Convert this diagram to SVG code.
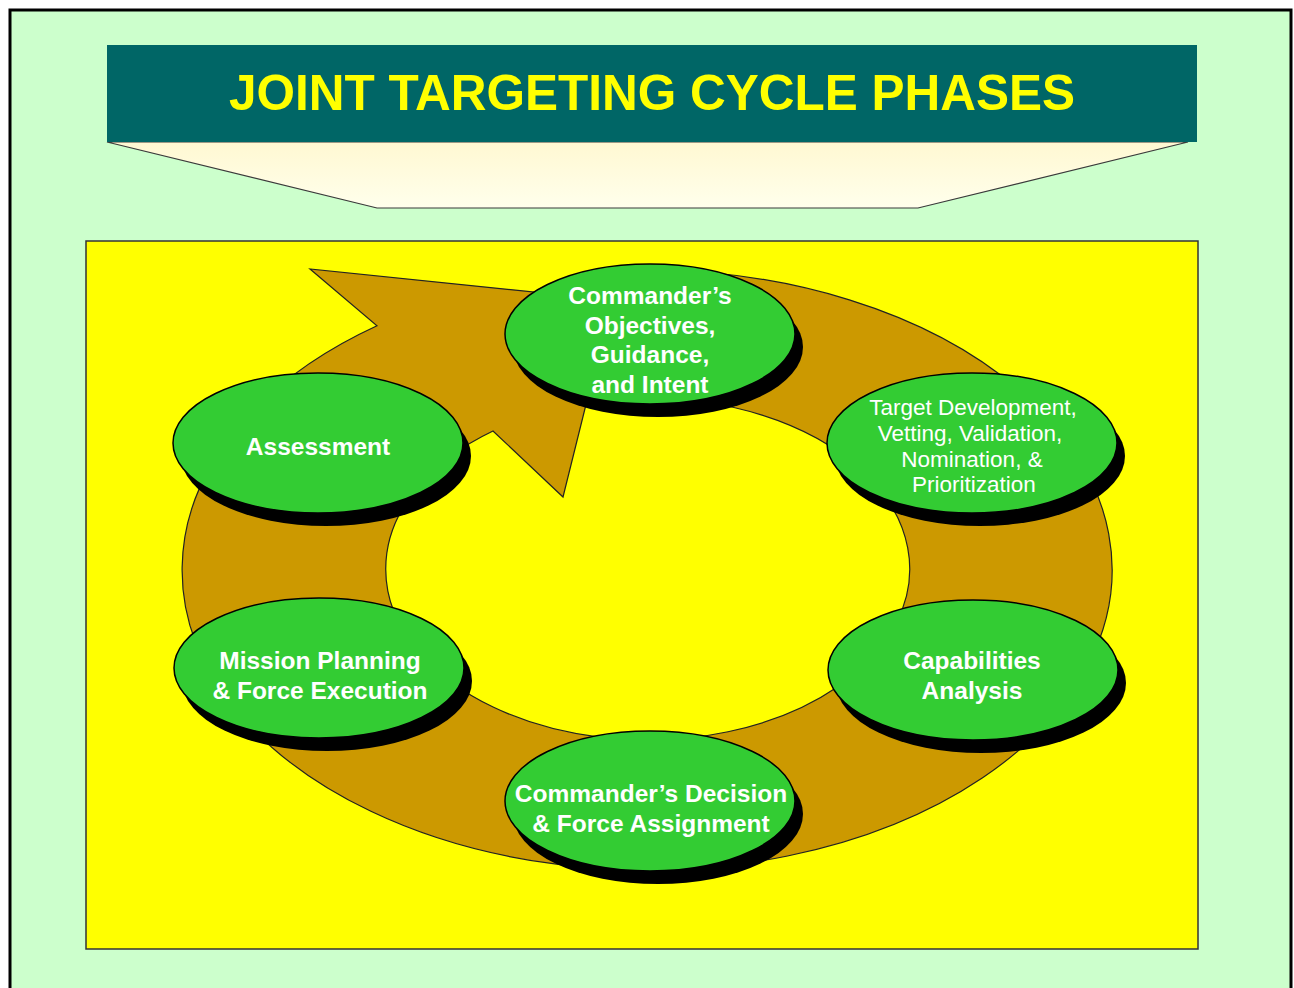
<svg xmlns="http://www.w3.org/2000/svg" width="1294" height="988" viewBox="0 0 1294 988">
<defs>
<linearGradient id="cream" x1="0" y1="0" x2="0" y2="1">
<stop offset="0" stop-color="#FFF8D2"/>
<stop offset="1" stop-color="#FFFFEC"/>
</linearGradient>
<style>
.shadow{fill:#000000;}
.node{fill:#33CC33;stroke:#000000;stroke-width:1.5;}
.lbl{font-family:"Liberation Sans",Arial,sans-serif;font-weight:bold;font-size:24.5px;fill:#FFFFFF;text-anchor:middle;}
.lbl2{font-family:"Liberation Sans",Arial,sans-serif;font-weight:normal;font-size:22.5px;fill:#FFFFFF;text-anchor:middle;}
.title{font-family:"Liberation Sans",Arial,sans-serif;font-weight:bold;font-size:49.5px;fill:#FFFF00;text-anchor:middle;}
</style>
</defs>
<rect x="0" y="0" width="1294" height="988" fill="#FFFFFF"/>
<rect x="10" y="10" width="1281" height="1000" fill="#CCFFCC" stroke="#000000" stroke-width="3"/>
<g id="banner">
<polygon points="107,142 1188,142 918,208 377,208" fill="url(#cream)" stroke="#3a3a3a" stroke-width="1.2"/>
<rect x="107" y="45" width="1090" height="97" fill="#006666"/>
<text class="title" x="652" y="110">JOINT TARGETING CYCLE PHASES</text>
</g>
<rect x="86" y="241" width="1112" height="708" fill="#FFFF00" stroke="#333333" stroke-width="1.5"/>
<g id="connectors">
<path d="M650,270 A465,300 0 1 1 377,325.8 L310,269 L612,300 L563,497 L493,431 A262,171 0 1 0 650,398 Z" fill="#CC9900" stroke="#222222" stroke-width="1.2" stroke-linejoin="miter"/>
</g>
<g id="n-objectives">
<ellipse class="shadow" cx="658" cy="347" rx="145" ry="70"/>
<ellipse class="node" cx="650" cy="334" rx="145" ry="70"/>
<text class="lbl" x="650" y="304">Commander’s</text>
<text class="lbl" x="650" y="334">Objectives,</text>
<text class="lbl" x="650" y="363">Guidance,</text>
<text class="lbl" x="650" y="393">and Intent</text>
</g>
<g id="n-target">
<ellipse class="shadow" cx="980" cy="456" rx="145" ry="70"/>
<ellipse class="node" cx="972" cy="443" rx="145" ry="70"/>
<text class="lbl2" x="973" y="415">Target Development,</text>
<text class="lbl2" x="970" y="441">Vetting, Validation,</text>
<text class="lbl2" x="972" y="467">Nomination, &amp;</text>
<text class="lbl2" x="974" y="492">Prioritization</text>
</g>
<g id="n-assessment">
<ellipse class="shadow" cx="326" cy="456" rx="145" ry="70"/>
<ellipse class="node" cx="318" cy="443" rx="145" ry="70"/>
<text class="lbl" x="318" y="455">Assessment</text>
</g>
<g id="n-mission">
<ellipse class="shadow" cx="327" cy="681" rx="145" ry="70"/>
<ellipse class="node" cx="319" cy="668" rx="145" ry="70"/>
<text class="lbl" x="320" y="669">Mission Planning</text>
<text class="lbl" x="320" y="699">&amp; Force Execution</text>
</g>
<g id="n-capabilities">
<ellipse class="shadow" cx="981" cy="683" rx="145" ry="70"/>
<ellipse class="node" cx="973" cy="670" rx="145" ry="70"/>
<text class="lbl" x="972" y="669">Capabilities</text>
<text class="lbl" x="972" y="699">Analysis</text>
</g>
<g id="n-decision">
<ellipse class="shadow" cx="658" cy="814" rx="145" ry="70"/>
<ellipse class="node" cx="650" cy="801" rx="145" ry="70"/>
<text class="lbl" x="651" y="802">Commander’s Decision</text>
<text class="lbl" x="651" y="832">&amp; Force Assignment</text>
</g>
</svg>
